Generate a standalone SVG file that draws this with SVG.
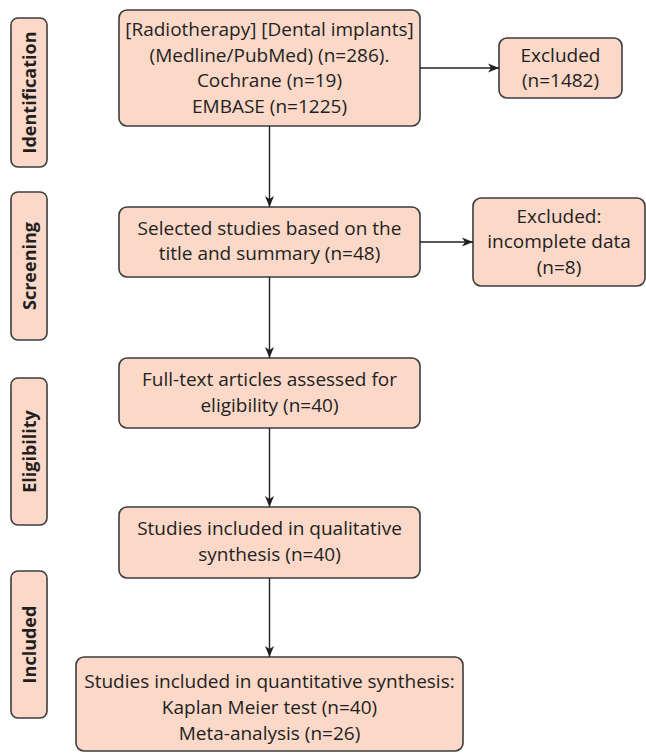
<svg xmlns="http://www.w3.org/2000/svg" width="646" height="754" viewBox="0 0 646 754">
<defs>
<marker id="ah" markerWidth="12" markerHeight="10" refX="11" refY="5" orient="auto" markerUnits="userSpaceOnUse">
<path d="M0,0.5 L11,5 L0,9.5 L3,5 Z" fill="#231f20"/>
</marker>
<style>
.box{fill:#fbd8c8;stroke:#3c3c3c;stroke-width:1.6}
.t{font-family:"Open Sans","Liberation Sans",sans-serif;font-size:19px;fill:#231f20;text-anchor:middle}
.s{font-family:"Open Sans","Liberation Sans",sans-serif;font-size:18px;font-weight:bold;fill:#231f20;text-anchor:middle}
.c{stroke:#231f20;stroke-width:1.4;fill:none;marker-end:url(#ah)}
</style>
</defs>
<rect width="646" height="754" fill="#ffffff"/>
<g id="stage-identification">
<rect class="box" x="11" y="18" width="36" height="149" rx="7"/>
<text class="s" transform="translate(36,92.5) rotate(-90)">Identification</text>
</g>
<g id="stage-screening">
<rect class="box" x="11" y="192" width="36" height="148" rx="7"/>
<text class="s" transform="translate(36,266) rotate(-90)">Screening</text>
</g>
<g id="stage-eligibility">
<rect class="box" x="11" y="378" width="36" height="147" rx="7"/>
<text class="s" transform="translate(36,451.5) rotate(-90)">Eligibility</text>
</g>
<g id="stage-included">
<rect class="box" x="11" y="571" width="36" height="147" rx="7"/>
<text class="s" transform="translate(36,644.5) rotate(-90)">Included</text>
</g>
<g id="records">
<rect class="box" x="119" y="10" width="301" height="116" rx="8"/>
<text class="t" x="269.5" y="36">[Radiotherapy] [Dental implants]</text>
<text class="t" x="269.5" y="62">(Medline/PubMed) (n=286).</text>
<text class="t" x="269.5" y="87">Cochrane (n=19)</text>
<text class="t" x="269.5" y="113">EMBASE (n=1225)</text>
</g>
<g id="excluded1">
<rect class="box" x="499" y="38" width="123" height="60" rx="8"/>
<text class="t" x="560.5" y="62">Excluded</text>
<text class="t" x="560.5" y="87">(n=1482)</text>
</g>
<g id="screened">
<rect class="box" x="119" y="207" width="301" height="70" rx="8"/>
<text class="t" x="269.5" y="235">Selected studies based on the</text>
<text class="t" x="269.5" y="260">title and summary (n=48)</text>
</g>
<g id="excluded2">
<rect class="box" x="473" y="198" width="172" height="88" rx="8"/>
<text class="t" x="559" y="223">Excluded:</text>
<text class="t" x="559" y="248">incomplete data</text>
<text class="t" x="559" y="274">(n=8)</text>
</g>
<g id="fulltext">
<rect class="box" x="119" y="358" width="301" height="70" rx="8"/>
<text class="t" x="269.5" y="386">Full-text articles assessed for</text>
<text class="t" x="269.5" y="412">eligibility (n=40)</text>
</g>
<g id="qualitative">
<rect class="box" x="119" y="507" width="301" height="71" rx="8"/>
<text class="t" x="269.5" y="535">Studies included in qualitative</text>
<text class="t" x="269.5" y="561">synthesis (n=40)</text>
</g>
<g id="quantitative">
<rect class="box" x="76" y="657" width="387" height="94" rx="8"/>
<text class="t" x="269.5" y="688">Studies included in quantitative synthesis:</text>
<text class="t" x="269.5" y="714">Kaplan Meier test (n=40)</text>
<text class="t" x="269.5" y="740">Meta-analysis (n=26)</text>
</g>
<g id="connectors">
<line class="c" x1="420" y1="68" x2="499" y2="68"/>
<line class="c" x1="269.5" y1="126" x2="269.5" y2="207"/>
<line class="c" x1="420" y1="242" x2="473" y2="242"/>
<line class="c" x1="269.5" y1="277" x2="269.5" y2="358"/>
<line class="c" x1="269.5" y1="428" x2="269.5" y2="507"/>
<line class="c" x1="269.5" y1="578" x2="269.5" y2="657"/>
</g>
</svg>
